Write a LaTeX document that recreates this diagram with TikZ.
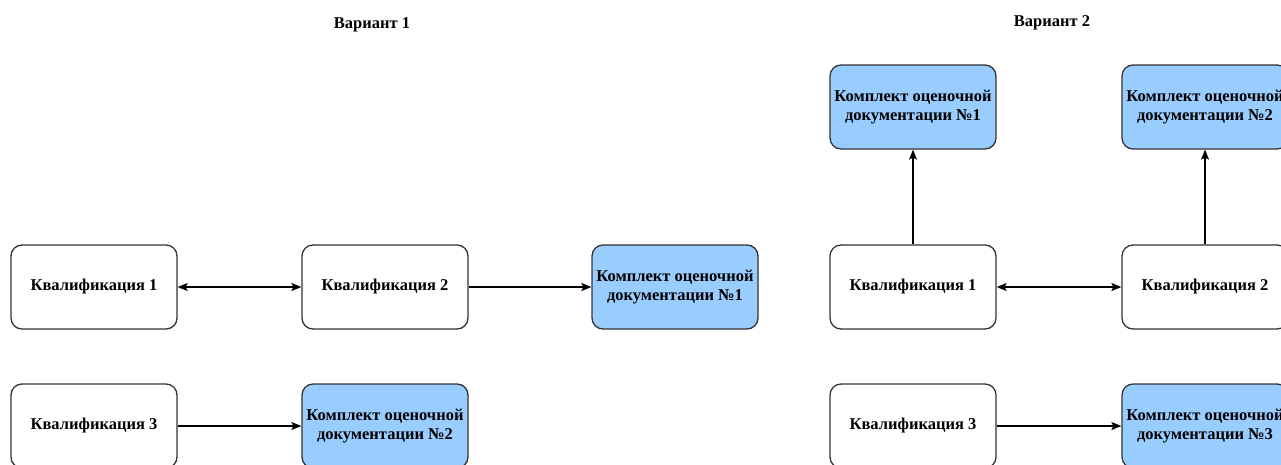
\documentclass[tikz,border=0pt]{standalone}
\usepackage{fontspec}
\setmainfont{Liberation Serif}
\usepackage{tikz}
\usetikzlibrary{arrows.meta}

\definecolor{kodblue}{HTML}{99CCFF}

\begin{document}
\begin{tikzpicture}[>={Stealth[length=10pt,width=8pt,inset=2pt]},x=1pt,y=-1pt,
                    line width=1.3pt,
                    box/.style={draw=black!80,rounded corners=11pt,
                      minimum width=166pt,minimum height=84pt,
                      align=center,font=\fontsize{16.5}{19.5}\selectfont\bfseries},
                    kod/.style={box,fill=kodblue},
                    title/.style={font=\fontsize{16.5}{19}\selectfont\bfseries}]
  \useasboundingbox (0,0) rectangle (1281,464);

  % Variant 1
  \node[title]           (t1)  at (372,25)  {Вариант 1};
  \node[box]             (ka)  at (94,287)  {Квалификация 1};
  \node[box,node distance=291pt] (kb) [right of=ka] {Квалификация 2};
  \node[kod,node distance=290pt] (da) [right of=kb] {Комплект оценочной\\документации №1};
  \node[box,node distance=139pt] (kc) [below of=ka] {Квалификация 3};
  \node[kod,node distance=139pt] (db) [below of=kb] {Комплект оценочной\\документации №2};

  % Variant 2
  \node[title]           (t2)  at (1052,23) {Вариант 2};
  \node[box]             (ra)  at (913,287) {Квалификация 1};
  \node[box,node distance=292pt] (rb) [right of=ra] {Квалификация 2};
  \node[kod,node distance=180pt] (ea) [above of=ra] {Комплект оценочной\\документации №1};
  \node[kod,node distance=180pt] (eb) [above of=rb] {Комплект оценочной\\документации №2};
  \node[box,node distance=139pt] (rc) [below of=ra] {Квалификация 3};
  \node[kod,node distance=139pt] (ec) [below of=rb] {Комплект оценочной\\документации №3};

  \path (ka) edge [<->] (kb)
        (kb) edge [->]  (da)
        (kc) edge [->]  (db)
        (ra) edge [<->] (rb)
             edge [->]  (ea)
        (rb) edge [->]  (eb)
        (rc) edge [->]  (ec);
\end{tikzpicture}
\end{document}
